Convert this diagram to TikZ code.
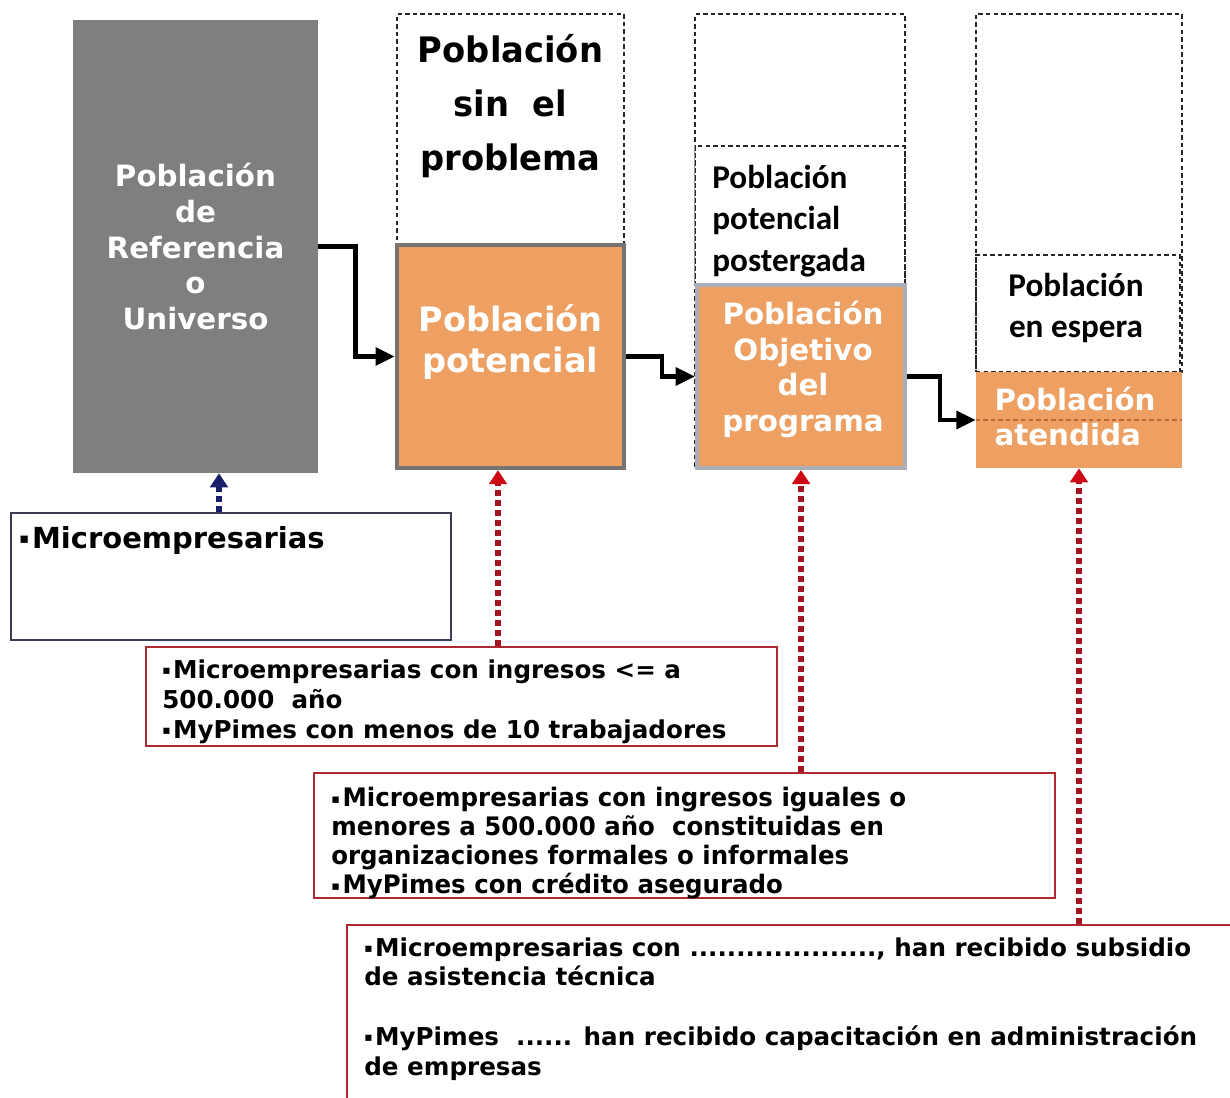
\documentclass[tikz,border=0pt]{standalone}
\usepackage{fontspec}
\setmainfont{DejaVu Sans}
\newfontfamily\tahomafont[FakeStretch=0.96]{DejaVu Sans}
\newfontfamily\calibfont{Carlito}
\newfontfamily\bulfont{DejaVu Sans}
\usetikzlibrary{arrows.meta,positioning}
\definecolor{boxgray}{RGB}{127,127,127}
\definecolor{boxorange}{RGB}{237,160,98}
\definecolor{edgegray}{RGB}{118,115,112}
\definecolor{edgelight}{RGB}{170,174,182}
\definecolor{dotnavy}{RGB}{25,30,105}
\definecolor{dotred}{RGB}{165,20,35}
\definecolor{tipred}{RGB}{205,10,20}
\definecolor{framenavy}{RGB}{60,60,85}
\definecolor{framered}{RGB}{175,40,50}
\definecolor{cutorange}{RGB}{185,105,55}
\newcommand{\bul}{\raisebox{0.15em}{\scalebox{0.5}{\bulfont ▪}}\hspace{0.1em}}
\tikzset{
  dashbox/.style={draw=black!85, dash pattern=on 2.5pt off 1.8pt, line width=0.7pt, inner sep=0pt},
  orangebox/.style={fill=boxorange, inner sep=0pt},
  whitetxt/.style={text=white, inner sep=0pt, font=\bfseries\fontsize{16.7}{20.4}\selectfont},
  calibtxt/.style={inner sep=0pt, font=\calibfont\bfseries\fontsize{18.9}{23.8}\selectfont},
  flow/.style={line width=2.5pt, -{Triangle[length=11pt,width=10pt]}},
  dotarrow/.style={line width=3.4pt, dash pattern=on 3.4pt off 2.3pt},
  critbox/.style={draw=framered, line width=0.9pt},
  crittxt/.style={anchor=west, inner sep=0pt, align=left, font=\bfseries\fontsize{14}{17}\selectfont},
}
\begin{document}
\begin{tikzpicture}[x=0.02cm, y=-0.02cm]
  \clip (0,0) rectangle (1230,1098);
  % columnas de poblaciones
  \node[fill=boxgray, whitetxt, align=center, minimum width=4.9cm, minimum height=9.06cm]
    (universo) at (195.5,246.5) {Población\\de\\Referencia\\o\\Universo};

  \node[dashbox, minimum width=4.54cm, minimum height=4.62cm] (sinprob) at (510.5,129.5) {};
  \node[inner sep=0pt, align=center, font=\tahomafont\bfseries\fontsize{20}{30.6}\selectfont]
    (sinprobtxt) at (510.5,106) {Población\\sin\ \ el\\problema};
  \node[orangebox, draw=edgegray, line width=2.5pt, minimum width=4.54cm, minimum height=4.46cm]
    (potencial) at (510.5,356.5) {};
  \node[whitetxt, align=center, font=\bfseries\fontsize{19.1}{23.2}\selectfont]
    (potencialtxt) at (510.5,342) {Población\\potencial};

  \node[dashbox, minimum width=4.2cm, minimum height=9.08cm] (frame3) at (800,241) {};
  \node[dashbox, minimum width=4.2cm, minimum height=2.78cm] (postergada) at (800,215.5) {};
  \draw[black!40, line width=0.7pt] (postergada.north west) -- (postergada.south west);
  \node[calibtxt, anchor=west, align=left] (postergadatxt) at (712,221) {Población\\potencial\\postergada};
  \node[orangebox, draw=edgelight, line width=2.3pt, minimum width=4.16cm, minimum height=3.66cm]
    (objetivo) at (801,376.5) {};
  \node[whitetxt, align=center] (objetivotxt) at (803,369.5) {Población\\Objetivo\\del\\programa};

  \node[dashbox, minimum width=4.12cm, minimum height=7.16cm] (frame4) at (1079,193) {};
  \node[dashbox, minimum width=4.08cm, minimum height=2.34cm] (espera) at (1078,313.5) {};
  \node[calibtxt, align=center] (esperatxt) at (1076,308) {Población\\en espera};
  \node[orangebox, minimum width=4.12cm, minimum height=1.92cm] (atendida) at (1079,420) {};
  \draw[cutorange, dash pattern=on 2.5pt off 1.8pt, line width=0.7pt] (atendida.west) -- (atendida.east);
  \node[whitetxt, align=left, font=\bfseries\fontsize{16.7}{19.8}\selectfont]
    (atendidatxt) at (1075,416.5) {Población\\atendida};

  % flechas entre poblaciones
  \draw[flow] (universo.east) -- ++(37,0) |- (potencial.west);
  \draw[flow] (potencial.east) -- ++(36,0) |- (objetivo.west);
  \draw[flow] (objetivo.east) -- ++(33,0) |- (atendida.west);

  % criterios
  \node[draw=framenavy, line width=1.1pt, minimum width=8.8cm, minimum height=2.54cm]
    (critUniverso) at (231,576.5) {};
  \node[crittxt, font=\bfseries\fontsize{16.5}{20}\selectfont]
    (critUniversotxt) at (19,540) {\bul Microempresarias};

  \node[critbox, minimum width=12.62cm, minimum height=1.98cm] (critPotencial) at (461.5,696.5) {};
  \node[crittxt] (critPotencialtxt) at (162,701.5)
    {\bul Microempresarias con ingresos <= a\\500.000~ año\\\bul MyPimes con menos de 10 trabajadores};

  \node[critbox, minimum width=14.82cm, minimum height=2.5cm] (critObjetivo) at (684.5,835.5) {};
  \node[crittxt, font=\tahomafont\bfseries\fontsize{14.5}{16.5}\selectfont] (critObjetivotxt) at (331,843.5)
    {\bul Microempresarias con ingresos iguales o\\menores a 500.000 año~ constituidas en\\organizaciones formales o informales\\\bul MyPimes con crédito asegurado};

  \node[critbox, minimum width=17.86cm, minimum height=3.7cm] (critAtendida) at (793.5,1017.5) {};
  \node[crittxt] (critAtendidatxt) at (364,1009)
    {\bul Microempresarias con ...................., han recibido subsidio\\de asistencia técnica\\[17pt]\bul MyPimes~ ...... han recibido capacitación en administración\\de empresas};

  % flechas punteadas
  \coordinate (univbase) at ([xshift=0.47cm]universo.south);
  \coordinate (potbase) at ([xshift=-0.25cm]potencial.south);
  \draw[dotarrow, dotnavy, -{Triangle[length=8pt,width=10pt]}] (critUniverso.north -| univbase) -- (univbase);
  \draw[dotarrow, dotred, -{Triangle[length=8pt,width=10pt,color=tipred]}] (critPotencial.north -| potbase) -- (potbase);
  \draw[dotarrow, dotred, -{Triangle[length=8pt,width=10pt,color=tipred]}] (critObjetivo.north -| objetivo.south) -- (objetivo.south);
  \draw[dotarrow, dotred, -{Triangle[length=8pt,width=10pt,color=tipred]}] (critAtendida.north -| atendida.south) -- (atendida.south);
\end{tikzpicture}
\end{document}
